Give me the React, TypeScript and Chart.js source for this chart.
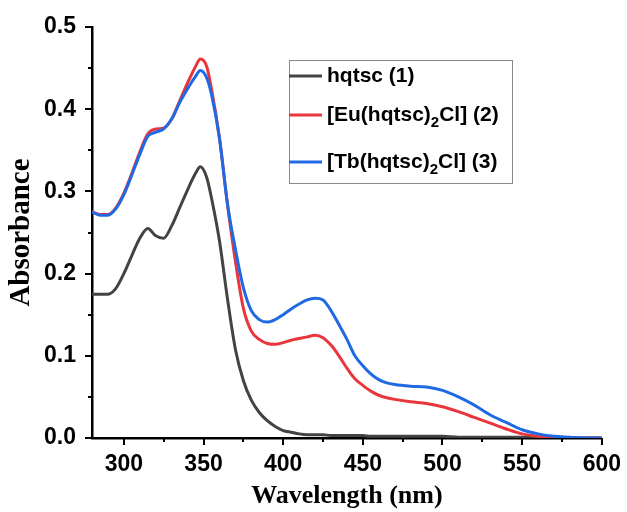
import React, { useEffect, useRef } from "react";
import { Chart, registerables } from "chart.js";

Chart.register(...registerables);

const wavelengths = [
  280, 285, 290, 295, 300, 305, 310, 315, 320, 325, 330, 335, 340, 345, 348, 352, 355, 360, 365, 370,
  375, 380, 385, 390, 395, 400, 405, 410, 415, 420, 425, 430, 435, 440, 445, 450, 455, 460, 465, 470,
  480, 490, 500, 510, 520, 530, 540, 550, 560, 570, 580, 590, 600,
];

const hqtsc = [
  0.175, 0.175, 0.175, 0.182, 0.2, 0.222, 0.243, 0.255, 0.246, 0.243, 0.258, 0.28, 0.302, 0.322, 0.33, 0.317, 0.292, 0.24, 0.17, 0.108,
  0.07, 0.046, 0.031, 0.021, 0.014, 0.009, 0.007, 0.005, 0.004, 0.004, 0.004, 0.003, 0.003, 0.003, 0.003, 0.003, 0.002, 0.002, 0.002, 0.002,
  0.002, 0.002, 0.002, 0.001, 0.001, 0.001, 0.001, 0.001, 0.0, 0.0, 0.0, 0.0, 0.0,
];

const euComplex = [
  0.275, 0.272, 0.272, 0.28, 0.298, 0.322, 0.348, 0.37, 0.376, 0.377, 0.388, 0.41, 0.432, 0.452, 0.461, 0.452, 0.425, 0.365, 0.285, 0.215,
  0.158, 0.13, 0.12, 0.115, 0.114, 0.116, 0.119, 0.121, 0.123, 0.125, 0.122, 0.113, 0.1, 0.085, 0.072, 0.064, 0.057, 0.052, 0.049, 0.047,
  0.044, 0.042, 0.038, 0.032, 0.025, 0.018, 0.011, 0.005, 0.002, 0.0, 0.0, 0.0, 0.0,
];

const tbComplex = [
  0.275, 0.271, 0.271, 0.279, 0.296, 0.32, 0.345, 0.367, 0.372, 0.376, 0.388, 0.408, 0.425, 0.44, 0.447, 0.438, 0.418, 0.365, 0.285, 0.23,
  0.183, 0.155, 0.144, 0.141, 0.144, 0.15, 0.157, 0.163, 0.168, 0.17, 0.168, 0.155, 0.138, 0.12, 0.1, 0.088, 0.078, 0.071, 0.067, 0.065,
  0.063, 0.062, 0.058, 0.05, 0.04, 0.028, 0.019, 0.01, 0.005, 0.002, 0.001, 0.0, 0.0,
];

// legend labels: [main, subscript, rest]
const seriesLabels = [
  ["hqtsc (1)", "", ""],
  ["[Eu(hqtsc)", "2", "Cl] (2)"],
  ["[Tb(hqtsc)", "2", "Cl] (3)"],
];
const seriesColors = ["#434343", "#e8363c", "#1f6ae3"];
const seriesValues = [hqtsc, euComplex, tbComplex];

const xTitle = "Wavelength (nm)";
const yTitle = "Absorbance";

const customPlugin = {
  id: "customDecor",
  afterDraw(chart: any) {
    const ctx = chart.ctx;
    const xs = chart.scales.x;
    const ys = chart.scales.y;
    const area = chart.chartArea;
    ctx.save();
    // tick marks
    ctx.strokeStyle = "#000";
    ctx.lineWidth = 2;
    for (let v = 300; v <= 600; v += 25) {
      const px = Math.round(xs.getPixelForValue(v));
      const len = v % 50 === 0 ? 7 : 4;
      ctx.beginPath();
      ctx.moveTo(px, area.bottom);
      ctx.lineTo(px, area.bottom + len);
      ctx.stroke();
    }
    for (let i = 0; i <= 10; i++) {
      const v = i * 0.05;
      const py = Math.round(ys.getPixelForValue(v));
      const len = i % 2 === 0 ? 7 : 4;
      ctx.beginPath();
      ctx.moveTo(area.left, py);
      ctx.lineTo(area.left - len, py);
      ctx.stroke();
    }
    // legend
    const bx = 289, by = 60, bw = 223, bh = 123;
    ctx.fillStyle = "#fff";
    ctx.fillRect(bx, by, bw, bh);
    ctx.strokeStyle = "#8a8a8a";
    ctx.lineWidth = 1;
    ctx.strokeRect(bx + 0.5, by + 0.5, bw, bh);
    const rowsY = [76, 115, 162];
    seriesLabels.forEach((parts, i) => {
      const y = rowsY[i];
      ctx.strokeStyle = seriesColors[i];
      ctx.lineWidth = 3;
      ctx.beginPath();
      ctx.moveTo(bx, y);
      ctx.lineTo(bx + 33, y);
      ctx.stroke();
      ctx.fillStyle = "#000";
      ctx.textBaseline = "middle";
      ctx.textAlign = "left";
      let x = bx + 38;
      ctx.font = "bold 21px 'Liberation Sans', Arial, sans-serif";
      ctx.fillText(parts[0], x, y);
      x += ctx.measureText(parts[0]).width;
      if (parts[1]) {
        ctx.font = "bold 15px 'Liberation Sans', Arial, sans-serif";
        ctx.fillText(parts[1], x, y + 8);
        x += ctx.measureText(parts[1]).width;
        ctx.font = "bold 21px 'Liberation Sans', Arial, sans-serif";
        ctx.fillText(parts[2], x, y);
      }
    });
    ctx.restore();
  },
};

export default function App() {
  const ref = useRef<HTMLCanvasElement | null>(null);
  useEffect(() => {
    if (!ref.current) return;
    const chart = new Chart(ref.current, {
      type: "line",
      data: {
        labels: wavelengths,
        datasets: seriesValues.map((vals, i) => ({
          label: seriesLabels[i].join(""),
          data: vals.map((v, j) => ({ x: wavelengths[j], y: v })),
          borderColor: seriesColors[i],
          backgroundColor: seriesColors[i],
          borderWidth: 3,
          pointRadius: 0,
          cubicInterpolationMode: "monotone" as const,
          order: 3 - i,
        })),
      },
      options: {
        animation: false,
        responsive: false,
        layout: { padding: { left: 0, right: 25, top: 27, bottom: 0 } },
        plugins: { legend: { display: false }, tooltip: { enabled: false } },
        scales: {
          x: {
            type: "linear",
            min: 280,
            max: 600,
            afterBuildTicks: (scale: any) => {
              const t = [];
              for (let v = 300; v <= 600; v += 50) t.push({ value: v });
              scale.ticks = t;
            },
            afterFit: (scale: any) => {
              scale.height = 74;
            },
            ticks: {
              color: "#000",
              font: { family: "'Liberation Sans', Arial, sans-serif", size: 23, weight: "bold" },
              padding: 6,
              maxRotation: 0,
              autoSkip: false,
            },
            grid: { display: true, drawOnChartArea: false, drawTicks: true, tickLength: 7, tickColor: "rgba(0,0,0,0)" },
            border: { display: true, color: "#000", width: 2.5 },
            title: {
              display: true,
              text: xTitle,
              color: "#000",
              font: { family: "'Liberation Serif', 'Times New Roman', serif", size: 26, weight: "bold" },
              padding: { top: 0, bottom: 0 },
            },
          },
          y: {
            type: "linear",
            min: 0,
            max: 0.5,
            afterBuildTicks: (scale: any) => {
              const t = [];
              for (let i = 0; i <= 5; i++) t.push({ value: i / 10 });
              scale.ticks = t;
            },
            afterFit: (scale: any) => {
              scale.width = 92;
            },
            ticks: {
              color: "#000",
              font: { family: "'Liberation Sans', Arial, sans-serif", size: 23, weight: "bold" },
              padding: 9,
              callback: (v: any) => Number(v).toFixed(1),
            },
            grid: { display: true, drawOnChartArea: false, drawTicks: true, tickLength: 7, tickColor: "rgba(0,0,0,0)" },
            border: { display: true, color: "#000", width: 2.5 },
            title: {
              display: true,
              text: yTitle,
              color: "#000",
              font: { family: "'Liberation Serif', 'Times New Roman', serif", size: 29, weight: "bold" },
              padding: { top: 4, bottom: 0 },
            },
          },
        },
      },
      plugins: [customPlugin],
    });
    return () => chart.destroy();
  }, []);
  return (
    <div style={{ position: "absolute", left: 0, top: 0, width: 627, height: 512, background: "#fff" }}>
      <canvas ref={ref} width={627} height={512} />
    </div>
  );
}
